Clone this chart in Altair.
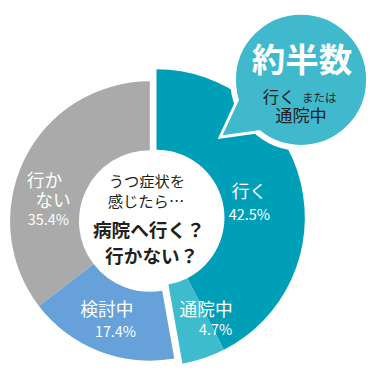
import math
import json
import altair as alt
import pandas as pd

# ---------------- data ----------------
categories = ["行く", "通院中", "検討中", "行かない"]
values = [42.5, 4.7, 17.4, 35.4]
label_names = ["行く", "通院中", "検討中", "行か\nない"]
colors = ["#009fb8", "#3ebbcd", "#66a1da", "#aaaaaa"]
exploded = ["行く", "通院中"]
center_lines = ["うつ症状を", "感じたら…", "病院へ行く？", "行かない？"]
bubble_title = "約半数"
bubble_line1a = "行く"
bubble_line1b = "または"
bubble_line2 = "通院中"

# ---------------- layout ----------------
W, H = 364, 359
S = 0.957


def fx(X):
    return 182 + (X - 190) * S


def fy(Y):
    return 179.5 + (Y - 187.5) * S


def fs(v):
    return v * S


FONT = "Noto Sans CJK JP"
DARK = "#231f20"
BUBBLE = "#40b9cd"

C1 = (148, 222.5)   # main group centre
C2 = (155, 219)     # exploded group centre
R1, r1 = 146, 74
R2, r2 = 155, 71

df = pd.DataFrame({
    "category": categories,
    "value": values,
    "name": label_names,
    "order": list(range(len(categories))),
})

theta_scale = alt.Scale(domain=[0, 100], range=[0, 2 * math.pi])
color_enc = alt.Color("category:N", scale=alt.Scale(domain=categories, range=colors), legend=None)

base = alt.Chart(df).transform_window(
    cum="sum(value)", sort=[alt.SortField("order")], frame=[None, 0]
).transform_calculate(
    start="datum.cum - datum.value",
    mid="datum.cum - datum.value / 2",
    pct="format(datum.value, '.1f') + '%'",
)

exp_list = json.dumps(exploded, ensure_ascii=False)
is_exp = f"indexof({exp_list}, datum.category) >= 0"
not_exp = f"indexof({exp_list}, datum.category) < 0"

main_arcs = base.transform_filter(not_exp).mark_arc(
    radius=fs(R1), radius2=fs(r1)
).encode(
    theta=alt.Theta("start:Q", scale=theta_scale),
    theta2=alt.Theta2("cum:Q"),
    color=color_enc,
    x=alt.value(fx(C1[0])),
    y=alt.value(fy(C1[1])),
)

exp_arcs = base.transform_filter(is_exp).mark_arc(
    radius=fs(R2), radius2=fs(r2)
).encode(
    theta=alt.Theta("start:Q", scale=theta_scale),
    theta2=alt.Theta2("cum:Q"),
    color=color_enc,
    x=alt.value(fx(C2[0])),
    y=alt.value(fy(C2[1])),
)

# label layout: centre, radius, offsets for each name line and for pct
label_layout = {
    "行く": dict(c=C2, r=98, lines=[(1.7, -3.1)], pct=(1.7, 20.9)),
    "通院中": dict(c=C2, r=122, lines=[(13, -18)], pct=(23, 3)),
    "検討中": dict(c=C1, r=110, lines=[(-5, -8)], pct=(4, 14)),
    "行かない": dict(c=C1, r=110, lines=[(-11.4, 7.6), (-2.4, 28.6)], pct=(-7.4, 48.4)),
}

label_layers = []
for cat in categories:
    lay = label_layout[cat]
    cx, cy = lay["c"]
    sel = base.transform_filter(alt.datum.category == cat)
    for j, (dx, dy) in enumerate(lay["lines"]):
        label_layers.append(
            sel.transform_calculate(line=f"split(datum.name, '\\n')[{j}]").mark_text(
                radius=fs(lay["r"]), dx=fs(dx), dy=fs(dy), fontSize=fs(18.5),
                font=FONT, color="white", align="center", baseline="middle",
            ).encode(
                theta=alt.Theta("mid:Q", scale=theta_scale),
                text="line:N",
                x=alt.value(fx(cx)),
                y=alt.value(fy(cy)),
            )
        )
    pdx, pdy = lay["pct"]
    label_layers.append(
        sel.mark_text(
            radius=fs(lay["r"]), dx=fs(pdx), dy=fs(pdy), fontSize=fs(15),
            font=FONT, color="white", align="center", baseline="middle",
        ).encode(
            theta=alt.Theta("mid:Q", scale=theta_scale),
            text="pct:N",
            x=alt.value(fx(cx)),
            y=alt.value(fy(cy)),
        )
    )

# centre text
center_pos = [(145, 182), (144, 203), (147, 233), (150, 260)]
center_style = [(16, "normal"), (16, "normal"), (19.5, "bold"), (19.5, "bold")]
center_layers = []
for t, (px, py), (sz, wt) in zip(center_lines, center_pos, center_style):
    center_layers.append(
        alt.Chart(pd.DataFrame({"t": [t]})).mark_text(
            font=FONT, fontSize=fs(sz), fontWeight=wt, color=DARK,
            align="center", baseline="middle",
        ).encode(text="t:N", x=alt.value(fx(px)), y=alt.value(fy(py)))
    )

# speech bubble
BC = (306, 75)
BR = 71
one = pd.DataFrame({"k": [0]})
tail_path = "M -63.8 19 L -82 58 L -35 51.5 Z"
tail_outline = alt.Chart(one).mark_point(
    shape=tail_path, size=4 * S * S, filled=True, fill=BUBBLE, stroke="white",
    strokeWidth=fs(6), opacity=1, strokeJoin="miter",
).encode(x=alt.value(fx(BC[0])), y=alt.value(fy(BC[1])))
bubble_circle = alt.Chart(one).mark_arc(
    theta=0, theta2=2 * math.pi, radius=fs(BR), fill=BUBBLE, stroke="white",
    strokeWidth=fs(6),
).encode(x=alt.value(fx(BC[0])), y=alt.value(fy(BC[1])))
tail_fill = alt.Chart(one).mark_point(
    shape=tail_path, size=4 * S * S, filled=True, fill=BUBBLE, strokeWidth=0, opacity=1,
).encode(x=alt.value(fx(BC[0])), y=alt.value(fy(BC[1])))

bubble_texts = [
    (bubble_title, 307, 56, 35, "bold", "white", "center"),
    (bubble_line1a, 300, 94, 17, "normal", DARK, "right"),
    (bubble_line1b, 307, 95.5, 12, "normal", DARK, "left"),
    (bubble_line2, 306, 114, 18, "normal", DARK, "center"),
]
bubble_layers = []
for t, px, py, sz, wt, col, al in bubble_texts:
    bubble_layers.append(
        alt.Chart(pd.DataFrame({"t": [t]})).mark_text(
            font=FONT, fontSize=fs(sz), fontWeight=wt, color=col,
            align=al, baseline="middle",
        ).encode(text="t:N", x=alt.value(fx(px)), y=alt.value(fy(py)))
    )

chart = alt.layer(
    main_arcs, exp_arcs, *label_layers, *center_layers,
    tail_outline, bubble_circle, tail_fill, *bubble_layers,
).properties(
    width=W, height=H, padding=0,
    autosize=alt.AutoSizeParams(type="none"),
    background="white",
).configure_view(strokeWidth=0)

chart.save("out.html", embed_options={"renderer": "svg", "actions": False})
